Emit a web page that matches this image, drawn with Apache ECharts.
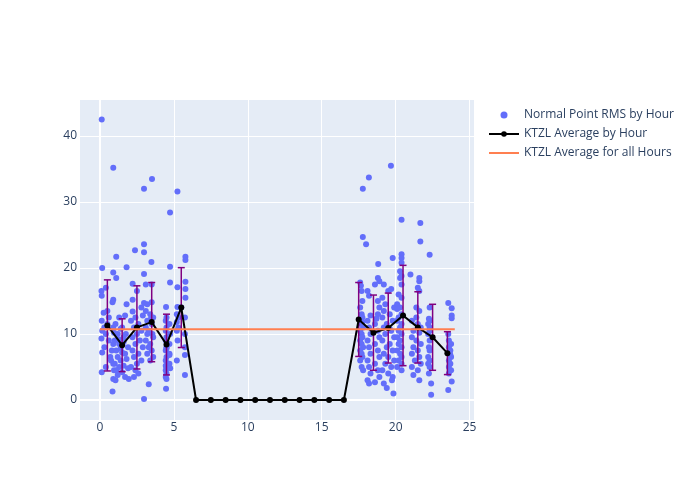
<!DOCTYPE html>
<html>
<head>
<meta charset="utf-8">
<script src="https://cdn.jsdelivr.net/npm/echarts@6/dist/echarts.min.js"></script>
<style>html,body{margin:0;padding:0;background:#fff}#c{width:700px;height:500px}</style>
</head>
<body>
<div id="c"></div>
<script>
// ---- data ----
const xTicks = [0, 5, 10, 15, 20, 25];
const yTicks = [0, 10, 20, 30, 40];

const pts00 = [[0.12,42.5],[0.9,35.2],[0.15,20.0],[0.9,19.3],[0.1,16.5],[0.12,15.8],[0.4,17.0],[0.25,13.2],[0.9,15.2],[0.85,14.8],[0.12,12.0],[0.5,11.5],[0.15,10.5],[0.4,10.0],[0.1,9.3],[0.6,9.0],[0.15,7.2],[0.3,8.0],[0.9,8.5],[0.8,7.5],[0.7,6.5],[0.9,5.5],[0.4,5.0],[0.12,4.2],[0.9,3.2],[0.85,1.3],[0.6,12.5],[0.9,11.0],[0.95,10.2],[0.75,6.0],[0.3,11.0],[0.5,13.5],[0.95,4.5]];
const pts01 = [[1.1,21.7],[1.1,18.5],[1.8,20.1],[1.8,14.5],[1.3,12.5],[1.7,12.8],[1.05,11.5],[1.4,10.8],[1.2,10.0],[1.6,9.5],[1.0,9.0],[1.3,8.5],[1.9,8.0],[1.1,7.5],[1.5,7.2],[1.7,7.0],[1.2,6.5],[1.4,6.0],[1.8,6.2],[1.0,5.5],[1.3,5.0],[1.6,5.2],[1.9,4.8],[1.1,4.5],[1.5,4.2],[1.2,3.8],[1.7,3.5],[1.05,3.0],[1.95,3.2],[1.4,7.8],[1.6,8.8],[1.25,9.2],[1.75,10.0],[1.5,11.0]];
const pts02 = [[2.37,22.7],[2.21,17.6],[2.21,15.2],[2.21,13.4],[2.4,12.5],[2.1,12.0],[2.6,11.5],[2.3,11.0],[2.8,10.5],[2.5,10.0],[2.2,9.5],[2.7,9.0],[2.4,8.5],[2.9,8.0],[2.2,7.5],[2.6,7.0],[2.3,6.5],[2.8,6.0],[2.5,5.5],[2.1,5.0],[2.4,4.5],[2.6,4.0],[2.3,3.5],[2.9,12.8],[2.8,14.0],[2.5,16.5],[2.98,32.0],[2.98,23.6],[2.98,22.4],[2.98,19.1],[2.98,14.7],[2.98,0.15]];
const pts03 = [[3.52,33.5],[3.48,20.9],[3.1,17.5],[3.5,17.5],[3.2,14.5],[3.5,14.8],[3.1,13.5],[3.4,13.0],[3.2,12.0],[3.6,12.5],[3.1,11.0],[3.5,11.5],[3.3,10.5],[3.2,10.0],[3.6,9.5],[3.1,9.0],[3.4,8.5],[3.3,8.0],[3.5,7.5],[3.2,7.0],[3.6,6.5],[3.4,6.0],[3.3,2.4],[3.45,12.3],[3.55,10.0]];
const pts04 = [[4.74,28.4],[4.74,20.2],[4.74,17.8],[4.47,14.1],[4.5,12.5],[4.45,12.0],[4.7,11.5],[4.5,11.0],[4.45,10.5],[4.75,10.0],[4.5,9.5],[4.45,9.0],[4.7,8.5],[4.5,8.0],[4.45,7.5],[4.7,7.0],[4.5,6.5],[4.45,6.0],[4.7,5.5],[4.5,5.0],[4.45,4.5],[4.5,4.0],[4.45,3.5],[4.47,1.7],[4.7,6.8],[4.5,7.8],[4.45,5.2],[4.75,4.8],[4.5,3.2]];
const pts05 = [[5.24,31.6],[5.78,21.7],[5.78,21.2],[5.78,17.9],[5.78,16.8],[5.24,17.1],[5.78,15.5],[5.24,14.1],[5.5,14.0],[5.2,13.0],[5.75,12.5],[5.2,11.8],[5.3,11.0],[5.75,10.0],[5.2,10.5],[5.25,9.0],[5.75,8.0],[5.2,6.0],[5.75,6.8],[5.75,3.8],[5.3,12.5]];
const pts17 = [[17.78,32.0],[17.78,24.7],[17.6,17.8],[17.7,16.5],[17.75,15.0],[17.6,14.0],[17.7,13.0],[17.75,12.5],[17.6,12.0],[17.7,11.5],[17.8,11.0],[17.6,10.5],[17.7,10.0],[17.75,9.5],[17.6,9.0],[17.7,8.5],[17.8,8.0],[17.6,7.5],[17.7,7.0],[17.75,6.5],[17.6,6.0],[17.7,5.0],[17.8,4.5],[17.65,17.3],[17.75,11.8]];
const pts18 = [[18.19,33.7],[18.0,23.6],[18.82,20.6],[18.1,16.5],[18.2,15.8],[18.8,18.5],[18.9,18.0],[18.6,17.5],[18.3,12.8],[18.8,15.0],[18.9,14.0],[18.1,12.0],[18.6,11.5],[18.2,11.0],[18.8,10.5],[18.3,10.0],[18.9,9.5],[18.1,9.0],[18.6,8.5],[18.2,8.0],[18.8,7.5],[18.3,7.0],[18.9,6.5],[18.1,6.0],[18.6,5.5],[18.2,5.0],[18.8,4.5],[18.3,4.0],[18.9,3.5],[18.1,3.0],[18.6,2.7],[18.2,2.5],[18.8,13.0],[18.7,12.3]];
const pts19 = [[19.68,35.5],[19.2,17.5],[19.5,16.5],[19.1,15.5],[19.7,16.8],[19.3,14.5],[19.9,14.0],[19.2,13.5],[19.6,13.0],[19.1,12.5],[19.8,12.0],[19.4,11.5],[19.2,11.0],[19.7,10.5],[19.3,10.0],[19.9,9.5],[19.1,9.0],[19.6,8.5],[19.4,8.0],[19.8,7.5],[19.2,7.0],[19.5,6.5],[19.9,6.0],[19.3,5.5],[19.7,5.0],[19.1,4.5],[19.5,4.0],[19.8,3.5],[19.2,2.5],[19.4,1.8],[19.85,1.0],[19.8,21.5],[19.75,3.0],[19.6,10.8]];
const pts20 = [[20.4,27.3],[20.4,22.1],[20.4,21.5],[20.4,20.8],[20.3,18.5],[20.4,17.5],[20.2,16.0],[20.4,15.5],[20.1,14.5],[20.3,14.0],[20.4,13.0],[20.2,12.5],[20.1,12.0],[20.4,11.5],[20.3,11.0],[20.2,10.5],[20.4,10.0],[20.1,9.5],[20.3,9.0],[20.2,8.5],[20.4,8.0],[20.1,7.5],[20.3,7.0],[20.4,6.5],[20.2,6.0],[20.4,5.5],[20.1,5.0],[20.4,4.5],[20.3,19.5],[20.4,18.8],[20.1,13.8]];
const pts21 = [[21.67,26.8],[21.67,24.0],[21.0,19.0],[21.6,18.5],[21.6,18.0],[21.5,17.0],[21.6,16.5],[21.4,14.0],[21.6,13.5],[21.1,12.0],[21.5,11.5],[21.7,11.0],[21.2,10.5],[21.6,10.2],[21.1,9.5],[21.4,9.0],[21.7,8.5],[21.2,8.0],[21.5,7.5],[21.1,7.0],[21.6,6.5],[21.3,6.0],[21.7,5.5],[21.1,5.0],[21.5,4.5],[21.2,3.8],[21.6,3.0],[21.4,12.5]];
const pts22 = [[22.3,22.0],[22.3,14.0],[22.3,12.0],[22.2,11.5],[22.3,11.0],[22.2,10.0],[22.3,9.0],[22.25,8.0],[22.3,7.5],[22.2,6.5],[22.3,6.0],[22.2,5.5],[22.3,5.0],[22.25,4.0],[22.4,2.5],[22.4,0.8],[22.3,10.5],[22.25,12.3]];
const pts23 = [[23.56,14.7],[23.79,13.9],[23.79,12.8],[23.79,12.4],[23.56,10.0],[23.6,9.0],[23.75,8.5],[23.6,8.0],[23.7,7.5],[23.6,7.0],[23.75,6.5],[23.6,6.0],[23.7,5.5],[23.6,5.0],[23.75,4.5],[23.6,4.0],[23.79,2.8],[23.56,1.5],[23.7,6.8],[23.65,7.2]];

const avgHours = [0.5,1.5,2.5,3.5,4.5,5.5,6.5,7.5,8.5,9.5,10.5,11.5,12.5,13.5,14.5,15.5,16.5,17.5,18.5,19.5,20.5,21.5,22.5,23.5];
const avgValues = [11.3,8.3,11.0,11.8,8.4,14.0,0,0,0,0,0,0,0,0,0,0,0,12.2,10.2,10.9,12.8,11.0,9.5,7.1];
const avgStd = [6.9,4.0,6.3,6.0,4.6,6.05,0,0,0,0,0,0,0,0,0,0,0,5.6,5.7,5.3,7.6,5.4,5.0,3.25];

const overallAvg = 10.7;
const overallRange = [0, 24];

// ---- build ----
const scatterData = [].concat(pts00,pts01,pts02,pts03,pts04,pts05,pts17,pts18,pts19,pts20,pts21,pts22,pts23);
const lineData = avgHours.map((h,i)=>[h, avgValues[i]]);
const errData = avgHours.map((h,i)=>[h, avgValues[i]-avgStd[i], avgValues[i]+avgStd[i], avgStd[i]]).filter(d=>d[3]>0);
const FONT = '"Open Sans", verdana, arial, sans-serif';
const TXT = '#2a3f5f';

const chart = echarts.init(document.getElementById('c'), null, {renderer:'canvas'});
chart.setOption({
  animation:false,
  backgroundColor:'#fff',
  textStyle:{fontFamily:FONT},
  grid:{left:80, top:100, width:394, height:320, show:true, backgroundColor:'#E5ECF6', borderWidth:0},
  xAxis:{type:'value', min:-1.35, max:25.3,
    axisLine:{show:false}, axisTick:{show:false, customValues:xTicks},
    axisLabel:{customValues:xTicks, color:TXT, fontSize:12, fontFamily:FONT, margin:2},
    splitLine:{show:true, lineStyle:{color:'#fff', width:1}}},
  yAxis:{type:'value', min:-3.03, max:45.45,
    axisLine:{show:false}, axisTick:{show:false, customValues:yTicks},
    axisLabel:{customValues:yTicks, color:TXT, fontSize:12, fontFamily:FONT, margin:3},
    splitLine:{show:true, lineStyle:{color:'#fff', width:1}}},
  legend:{orient:'vertical', left:488, top:109, padding:0, itemWidth:30, itemHeight:7, itemGap:7,
    textStyle:{color:TXT, fontSize:12, fontFamily:FONT},
    data:['Normal Point RMS by Hour','KTZL Average by Hour',
      {name:'KTZL Average for all Hours', itemStyle:{opacity:0}}]},
  series:[
    {type:'custom', name:'zero', z:1, silent:true, data:[[0,0]],
      renderItem:(params, api)=>{
        const cs = params.coordSys;
        const p = api.coord([0,0]);
        return {type:'group', children:[
          {type:'line', shape:{x1:cs.x, y1:p[1], x2:cs.x+cs.width, y2:p[1]}, style:{stroke:'#fff', lineWidth:2}},
          {type:'line', shape:{x1:p[0], y1:cs.y, x2:p[0], y2:cs.y+cs.height}, style:{stroke:'#fff', lineWidth:2}}
        ]};
      }},
    {type:'scatter', name:'Normal Point RMS by Hour', data:scatterData, symbolSize:6,
      itemStyle:{color:'#636efa', opacity:1}, z:2},
    {type:'custom', name:'err', z:3, silent:true, data:errData,
      renderItem:(params, api)=>{
        const lo = api.coord([api.value(0), api.value(1)]);
        const hi = api.coord([api.value(0), api.value(2)]);
        const w = 3.5;
        const st = {stroke:'#800080', lineWidth:1.5};
        return {type:'group', children:[
          {type:'line', shape:{x1:lo[0], y1:lo[1], x2:hi[0], y2:hi[1]}, style:st},
          {type:'line', shape:{x1:lo[0]-w, y1:lo[1], x2:lo[0]+w, y2:lo[1]}, style:st},
          {type:'line', shape:{x1:hi[0]-w, y1:hi[1], x2:hi[0]+w, y2:hi[1]}, style:st}
        ]};
      }},
    {type:'line', name:'KTZL Average by Hour', data:lineData, z:4,
      symbol:'circle', symbolSize:6, showAllSymbol:true,
      lineStyle:{color:'#000', width:2}, itemStyle:{color:'#000'}},
    {type:'line', name:'KTZL Average for all Hours', z:5,
      data:[[overallRange[0], overallAvg],[overallRange[1], overallAvg]],
      symbol:'none', lineStyle:{color:'#FF7F50', width:2}, itemStyle:{color:'#FF7F50'}}
  ]
});
</script>
</body>
</html>
